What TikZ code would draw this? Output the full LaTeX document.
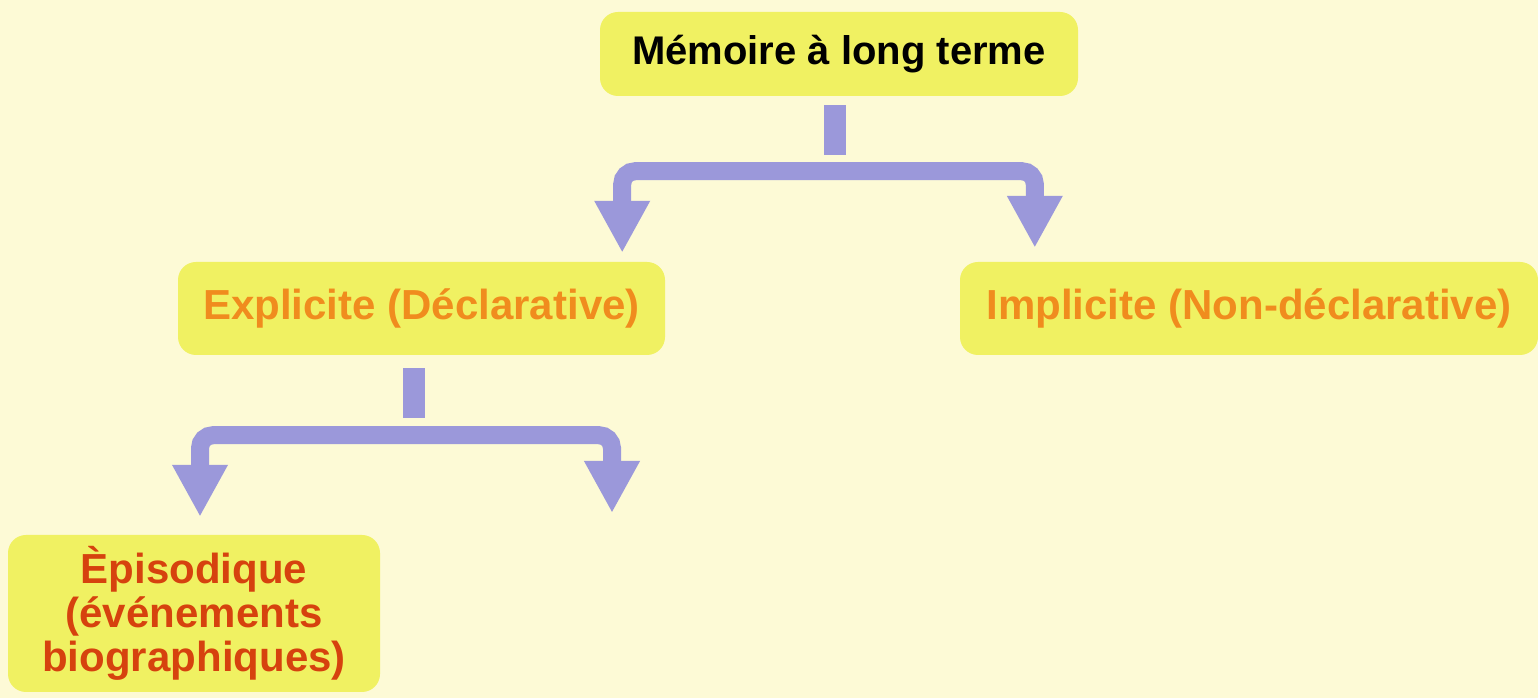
\documentclass[tikz,border=0pt]{standalone}
\usepackage{fontspec}
\setmainfont{Liberation Sans}
\usetikzlibrary{arrows.meta}
\definecolor{paper}{RGB}{253,250,214}
\definecolor{boxfill}{RGB}{240,241,98}
\definecolor{lilac}{RGB}{155,152,218}
\definecolor{darkorange}{RGB}{240,140,30}
\definecolor{rust}{RGB}{214,66,14}
\tikzset{box/.style={fill=boxfill,rounded corners=18pt,inner sep=0pt,align=center,
		font=\bfseries\fontsize{42}{44}\selectfont},
	trunk/.style={draw=lilac,line width=22pt},
	branch/.style={draw=lilac,line width=18pt,rounded corners=13pt,
		{Triangle[width=52pt,length=52pt]}-{Triangle[width=52pt,length=52pt]}}}

\begin{document}
\begin{tikzpicture}[x=1pt,y=1pt]
		\fill[paper] (0,0) rectangle (1538,698);
		\node[box,minimum width=478pt,minimum height=84pt,
			font=\bfseries\fontsize{40}{44}\selectfont] (mem) at (839,644) {Mémoire à long terme};
		\node[box,minimum width=487pt,minimum height=93pt,text=darkorange] (expl) at (421.5,389.5) {Explicite (Déclarative)};
		\node[box,minimum width=578pt,minimum height=93pt,text=darkorange] (impl) at (1249,389.5) {Implicite (Non-déclarative)};
		\node[box,minimum width=372pt,minimum height=157pt,text=rust] (epi) at (194,84.5) {Èpisodique\\(événements\\biographiques)};
		\coordinate (sem) at (612,185);
		% long terme -> explicite / implicite
		\draw[trunk] ([xshift=-4pt,yshift=-9pt]mem.south) -- ([xshift=-4pt,yshift=-59pt]mem.south);
		\draw[branch] ([xshift=-43pt,yshift=9pt]expl.north east) |- ([yshift=-75pt]mem.south)
			-| ([xshift=75pt,yshift=14pt]impl.north west);
		% explicite -> episodique / (vide)
		\draw[trunk] ([xshift=-8pt,yshift=-13pt]expl.south) -- ([xshift=-8pt,yshift=-63pt]expl.south);
		\draw[branch] ([xshift=6pt,yshift=18pt]epi.north) |- ([yshift=-80pt]expl.south) -| (sem);
	\end{tikzpicture}
\end{document}
